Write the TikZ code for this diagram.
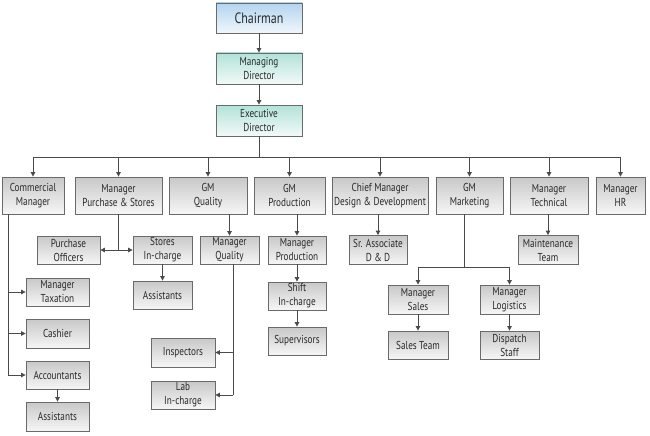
\documentclass[tikz,border=0pt]{standalone}
\usepackage{fontspec}
\setmainfont{PT Sans}[FakeStretch=0.8]
\usetikzlibrary{arrows.meta}
\definecolor{bordergray}{HTML}{6A6A6A}
\definecolor{linegray}{HTML}{4A4A4A}
\definecolor{txtgray}{HTML}{2A2A2A}
\definecolor{gtop}{HTML}{C8C8C8}
\definecolor{gbot}{HTML}{F6F6F6}
\definecolor{btop}{HTML}{B3D4EF}
\definecolor{bbot}{HTML}{F0F7FC}
\definecolor{ttop}{HTML}{B2E2D9}
\definecolor{tbot}{HTML}{F2FAF8}
\tikzset{
  box/.style={draw=bordergray, line width=0.8pt, top color=gtop, bottom color=gbot,
    inner sep=0pt, align=center, text=txtgray,
    font=\fontsize{11.5}{14}\selectfont},
  bluebox/.style={box, top color=btop, bottom color=bbot, font=\fontsize{15}{17}\selectfont},
  tealbox/.style={box, top color=ttop, bottom color=tbot},
  wire/.style={draw=linegray, line width=0.8pt},
  arr/.style={wire, -{Triangle[length=4.5pt,width=4.5pt]}}
}
\newcommand{\bx}[7][box]{\node[#1, minimum width=#5pt, minimum height=#6pt] (#2) at (#3,#4) {#7};}
\begin{document}
\begin{tikzpicture}[x=1pt,y=-1pt]
\useasboundingbox[fill=white] (0,0) rectangle (650,436);
% top
\bx[bluebox]{chair}{259}{18}{86}{30}{Chairman}
\bx[tealbox]{md}{259}{68.5}{86}{31}{Managing\\Director}
\bx[tealbox]{ed}{259}{120.5}{86}{31}{Executive\\Director}
% row 1
\bx{cm}{33}{195.5}{62}{37}{Commercial\\Manager}
\bx{mps}{118.5}{195.5}{87}{37}{Manager\\Purchase \& Stores}
\bx{gmq}{208}{195.5}{78}{37}{GM\\Quality}
\bx{gmp}{289.5}{195.5}{71}{37}{GM\\Production}
\bx{cmdd}{380}{195.5}{96}{37}{Chief Manager\\Design \& Development}
\bx{gmm}{469.5}{195.5}{67}{37}{GM\\Marketing}
\bx{mt}{549}{195.5}{78}{37}{Manager\\Technical}
\bx{mhr}{620.5}{195.5}{49}{37}{Manager\\HR}
% row 2
\bx{po}{68.5}{250}{63}{28}{Purchase\\Officers}
\bx{sic}{162.5}{250}{59}{28}{Stores\\In-charge}
\bx{mq}{229.5}{250}{59}{28}{Manager\\Quality}
\bx{mpr}{297}{250}{58}{28}{Manager\\Production}
\bx{srd}{378}{250}{58}{29}{Sr. Associate\\D \& D}
\bx{maint}{548}{250}{60}{29}{Maintenance\\Team}
% lower
\bx{asst}{162.5}{295}{59}{28}{Assistants}
\bx{shift}{297}{296}{58}{28}{Shift\\In-charge}
\bx{sup}{297}{341}{58}{28}{Supervisors}
\bx{insp}{183}{352.5}{64}{29}{Inspectors}
\bx{lab}{183}{395}{64}{28}{Lab\\In-charge}
\bx{tax}{57.5}{292}{63}{28}{Manager\\Taxation}
\bx{cash}{57.5}{333.5}{63}{29}{Cashier}
\bx{acc}{57.5}{375}{63}{28}{Accountants}
\bx{asst2}{57.5}{416.5}{63}{29}{Assistants}
\bx{ms}{418}{299.5}{60}{29}{Manager\\Sales}
\bx{ml}{509.5}{299.5}{59}{29}{Manager\\Logistics}
\bx{st}{418}{345}{60}{28}{Sales Team}
\bx{ds}{509.5}{345}{59}{28}{Dispatch\\Staff}
% top chain
\draw[arr] (chair) -- (md);
\draw[arr] (md) -- (ed);
\coordinate (bus) at (259,157);
\draw[wire] (ed.south) -- (bus);
\draw[wire] (bus -| cm.north) -- (bus -| mhr.north);
\foreach \n in {cm,mps,gmq,gmp,cmdd,gmm,mt,mhr}{\draw[arr] (bus -| \n.north) -- (\n.north);}
% purchase & stores
\coordinate (j1) at (mps.south |- po.east);
\draw[wire] (mps.south) -- (j1);
\draw[arr] (j1) -- (po.east);
\draw[arr] (j1) -- (sic.west);
\draw[arr] (sic) -- (asst);
% quality
\draw[arr] (gmq.south -| mq.north) -- (mq.north);
\coordinate (qx) at ([xshift=3.5pt]mq.south);
\draw[wire] (qx) -- (qx |- lab.east);
\draw[arr] (qx |- insp.east) -- (insp.east);
\draw[arr] (qx |- lab.east) -- (lab.east);
% production
\draw[arr] (gmp.south -| mpr.north) -- (mpr.north);
\draw[arr] (mpr) -- (shift);
\draw[arr] (shift) -- (sup);
% D&D, technical
\draw[arr] (cmdd.south -| srd.north) -- (srd.north);
\draw[arr] (mt.south -| maint.north) -- (maint.north);
% commercial
\coordinate (cx) at (8,214);
\draw[wire] (cx) -- (cx |- acc.west);
\draw[arr] (cx |- tax.west) -- (tax.west);
\draw[arr] (cx |- cash.west) -- (cash.west);
\draw[arr] (cx |- acc.west) -- (acc.west);
\draw[arr] (acc) -- (asst2);
% marketing
\coordinate (mk) at (464,267);
\draw[wire] (gmm.south -| mk) -- (mk);
\draw[wire] (mk -| ms.north) -- (mk -| ml.north);
\draw[arr] (mk -| ms.north) -- (ms.north);
\draw[arr] (mk -| ml.north) -- (ml.north);
\draw[arr] (ms) -- (st);
\draw[arr] (ml) -- (ds);
\end{tikzpicture}
\end{document}
